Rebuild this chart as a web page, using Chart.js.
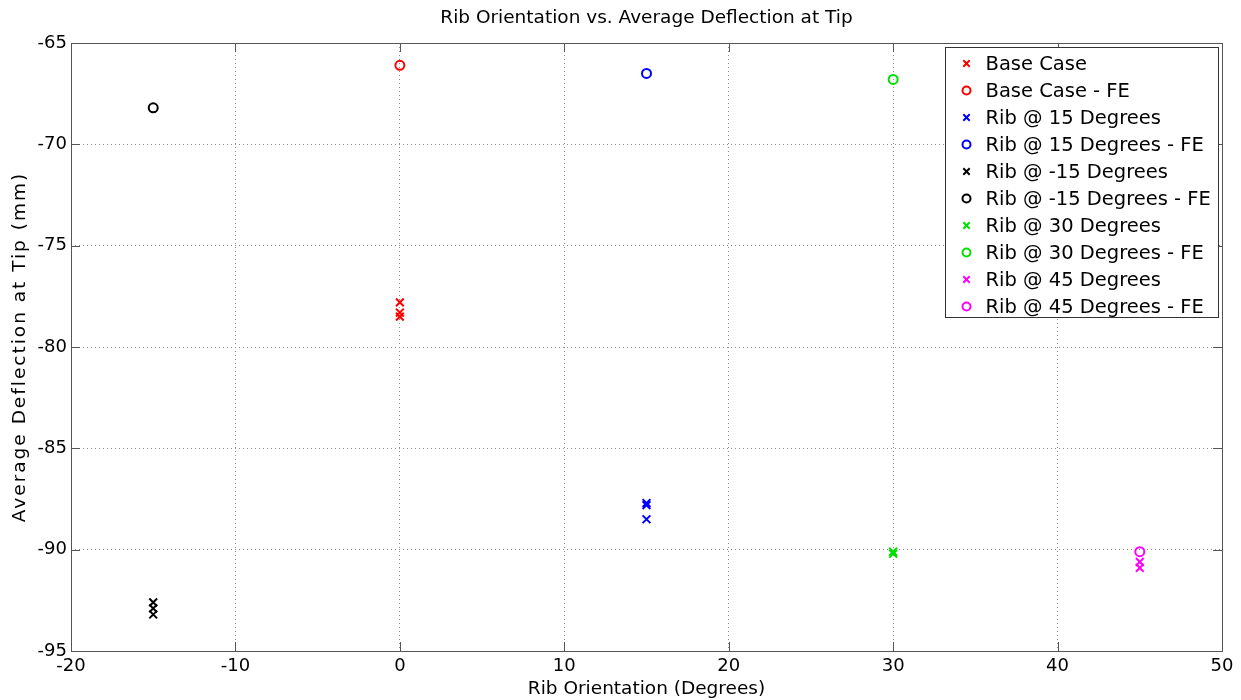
<!DOCTYPE html>
<html>
<head>
<meta charset="utf-8">
<title>Rib Orientation vs. Average Deflection at Tip</title>
<script src="https://cdn.jsdelivr.net/npm/chart.js@4/dist/chart.umd.min.js"></script>
<style>
  html, body { margin: 0; padding: 0; background: #ffffff; }
  #wrap { width: 1241px; height: 700px; }
</style>
</head>
<body>
<div id="wrap"><canvas id="chart" width="1241" height="700"></canvas></div>
<script>
// Rib orientation (degrees) for each configuration
const orientBase = 0;
const orient15 = 15;
const orientMinus15 = -15;
const orient30 = 30;
const orient45 = 45;

// Average tip deflection (mm): measured runs and FE predictions
const baseCase = [-77.8, -78.3, -78.5];
const baseCaseFE = [-66.1];
const rib15 = [-87.7, -87.8, -88.5];
const rib15FE = [-66.5];
const ribMinus15 = [-92.6, -92.9, -93.2];
const ribMinus15FE = [-68.2];
const rib30 = [-90.1, -90.2];
const rib30FE = [-66.8];
const rib45 = [-90.6, -90.9];
const rib45FE = [-90.1];

// Axis ticks
const xTicks = [-20, -10, 0, 10, 20, 30, 40, 50];
const yTicks = [-95, -90, -85, -80, -75, -70, -65];

const FONT = "'DejaVu Sans', 'Liberation Sans', Arial, sans-serif";
const TITLE = 'Rib Orientation vs. Average Deflection at Tip';
const Y_TITLE = 'Average Deflection at Tip (mm)';

function pts(x, ys) { return ys.map(y => ({ x: x, y: y })); }

function series(label, x, ys, color, fe) {
  return {
    label: label,
    data: pts(x, ys),
    showLine: false,
    pointStyle: fe ? 'circle' : 'crossRot',
    pointRadius: fe ? 4.5 : 5.5,
    pointHoverRadius: fe ? 4.5 : 5.5,
    pointBorderWidth: 2,
    pointHoverBorderWidth: 2,
    borderColor: color,
    backgroundColor: 'rgba(0,0,0,0)',
    pointBackgroundColor: 'rgba(0,0,0,0)'
  };
}

const datasets = [
  series('Base Case', orientBase, baseCase, '#ff0000', false),
  series('Base Case - FE', orientBase, baseCaseFE, '#ff0000', true),
  series('Rib @ 15 Degrees', orient15, rib15, '#0000ff', false),
  series('Rib @ 15 Degrees - FE', orient15, rib15FE, '#0000ff', true),
  series('Rib @ -15 Degrees', orientMinus15, ribMinus15, '#000000', false),
  series('Rib @ -15 Degrees - FE', orientMinus15, ribMinus15FE, '#000000', true),
  series('Rib @ 30 Degrees', orient30, rib30, '#00e000', false),
  series('Rib @ 30 Degrees - FE', orient30, rib30FE, '#00e000', true),
  series('Rib @ 45 Degrees', orient45, rib45, '#ff00ff', false),
  series('Rib @ 45 Degrees - FE', orient45, rib45FE, '#ff00ff', true)
];

// Box frame around the axes with inward tick marks on all four sides
const framePlugin = {
  id: 'frame',
  afterDatasetsDraw(chart) {
    const { ctx, chartArea: a, scales } = chart;
    ctx.save();
    ctx.strokeStyle = '#555555';
    ctx.lineWidth = 1;
    const tl = 9;
    ctx.beginPath();
    xTicks.forEach(v => {
      const px = Math.round(scales.x.getPixelForValue(v)) + 0.5;
      ctx.moveTo(px, a.top); ctx.lineTo(px, a.top + tl);
      ctx.moveTo(px, a.bottom); ctx.lineTo(px, a.bottom - tl);
    });
    yTicks.forEach(v => {
      const py = Math.round(scales.y.getPixelForValue(v)) + 0.5;
      ctx.moveTo(a.left, py); ctx.lineTo(a.left + tl, py);
      ctx.moveTo(a.right, py); ctx.lineTo(a.right - tl, py);
    });
    ctx.stroke();
    ctx.strokeRect(Math.round(a.left) + 0.5, Math.round(a.top) + 0.5,
                   Math.round(a.right - a.left), Math.round(a.bottom - a.top));
    ctx.restore();
  }
};

// Chart title centred over the plot area, and the rotated y-axis title
const titlesPlugin = {
  id: 'titles',
  afterDraw(chart) {
    const { ctx, chartArea: a } = chart;
    ctx.save();
    ctx.fillStyle = '#000000';
    ctx.textAlign = 'center';
    ctx.textBaseline = 'middle';
    ctx.font = '18.5px ' + FONT;
    ctx.fillText(TITLE, (a.left + a.right) / 2, 18);

    ctx.translate(20, (a.top + a.bottom) / 2);
    ctx.rotate(-Math.PI / 2);
    if ('letterSpacing' in ctx) ctx.letterSpacing = '2px';
    ctx.fillText(Y_TITLE, 0, 0);
    ctx.restore();
  }
};

// Legend box drawn inside the top-right corner of the plot area
const insideLegend = {
  id: 'insideLegend',
  afterDraw(chart) {
    const { ctx, chartArea: a } = chart;
    const sets = chart.data.datasets;
    const rowH = 27;
    const boxW = 273;
    const boxH = rowH * sets.length;
    const x0 = Math.round(a.right - 4 - boxW) + 0.5;
    const y0 = Math.round(a.top + 4) + 0.5;
    ctx.save();
    ctx.fillStyle = '#ffffff';
    ctx.fillRect(x0, y0, boxW, boxH);
    ctx.strokeStyle = '#333333';
    ctx.lineWidth = 1;
    ctx.strokeRect(x0, y0, boxW, boxH);
    ctx.font = '19.5px ' + FONT;
    ctx.textBaseline = 'middle';
    ctx.textAlign = 'left';
    sets.forEach((ds, i) => {
      const cy = y0 + 16 + i * rowH;
      const cx = x0 + 21;
      ctx.strokeStyle = ds.borderColor;
      ctx.fillStyle = 'rgba(0,0,0,0)';
      ctx.lineWidth = 2;
      Chart.helpers.drawPoint(ctx, {
        pointStyle: ds.pointStyle,
        radius: ds.pointStyle === 'circle' ? 4 : 4.5,
        rotation: 0,
        borderWidth: 2
      }, cx, cy);
      ctx.fillStyle = '#000000';
      ctx.fillText(ds.label, x0 + 40, cy + 1);
    });
    ctx.restore();
  }
};

new Chart(document.getElementById('chart'), {
  type: 'scatter',
  data: { datasets: datasets },
  plugins: [framePlugin, titlesPlugin, insideLegend],
  options: {
    responsive: false,
    animation: false,
    layout: { padding: { left: 0, right: 19, top: 43, bottom: 0 } },
    plugins: {
      legend: { display: false },
      tooltip: { enabled: false },
      title: { display: false }
    },
    scales: {
      x: {
        type: 'linear',
        min: -20, max: 50,
        afterBuildTicks(scale) { scale.ticks = xTicks.map(v => ({ value: v })); },
        afterFit(scale) { scale.height = 49; },
        border: { display: false, dash: [1, 3] },
        grid: {
          color: '#8c8c8c',
          lineWidth: 1,
          drawTicks: false
        },
        ticks: {
          color: '#000000',
          font: { family: FONT, size: 18 },
          padding: 5,
          maxRotation: 0
        },
        title: {
          display: true,
          text: 'Rib Orientation (Degrees)',
          color: '#000000',
          font: { family: FONT, size: 18.5 },
          padding: { top: 1, bottom: 0 }
        }
      },
      y: {
        type: 'linear',
        min: -95, max: -65,
        afterBuildTicks(scale) { scale.ticks = yTicks.map(v => ({ value: v })); },
        afterFit(scale) { scale.width = 71; },
        border: { display: false, dash: [1, 3] },
        grid: {
          color: '#8c8c8c',
          lineWidth: 1,
          drawTicks: false
        },
        ticks: {
          color: '#000000',
          font: { family: FONT, size: 18 },
          padding: 4
        },
        title: { display: false }
      }
    }
  }
});
</script>
</body>
</html>
